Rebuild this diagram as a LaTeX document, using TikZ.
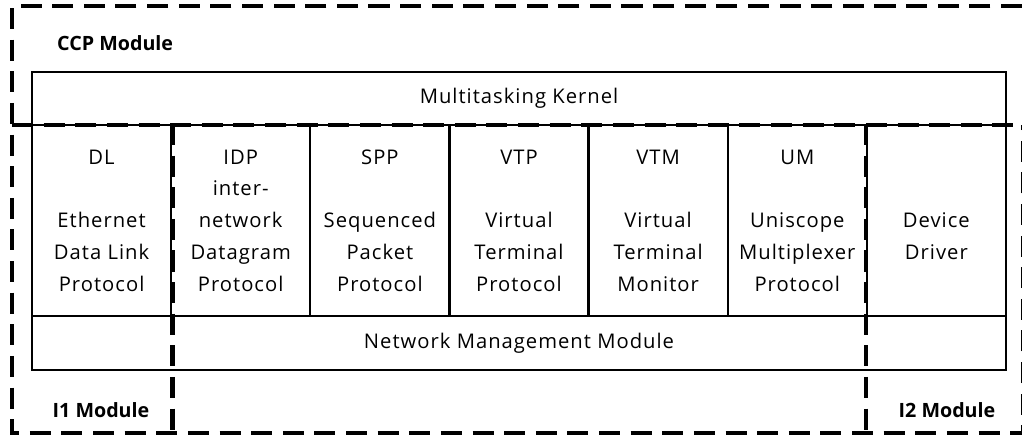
\documentclass[tikz,border=0pt]{standalone}
\usepackage{fontspec}
\setmainfont{Open Sans}[LetterSpace=5.0]
\begin{document}
\begin{tikzpicture}[x=0.02cm,y=-0.02cm,font=\fontsize{11.5}{18.1}\selectfont,
		box/.style={draw,line width=1.2pt,inner sep=0pt,align=center,minimum width=2.783cm,minimum height=3.82cm},
		wide/.style={box,minimum width=19.48cm,minimum height=1.07cm},
		module/.style={draw,line width=2.6pt,dash pattern=on 12pt off 6pt},
		tag/.style={font=\fontsize{11.2}{14}\selectfont\bfseries\addfontfeature{LetterSpace=0}}]
	\useasboundingbox (0,0) rectangle (1022,440);
	\node[wide] (0) at (519,98.5) {Multitasking Kernel};
	\node[box] (1) at (101.6,220.5) {DL\\\mbox{}\\Ethernet\\Data Link\\Protocol};
	\node[box] (2) at (240.7,220.5) {IDP\\inter-\\network\\Datagram\\Protocol};
	\node[box] (3) at (379.9,220.5) {SPP\\\mbox{}\\Sequenced\\Packet\\Protocol};
	\node[box] (4) at (519,220.5) {VTP\\\mbox{}\\Virtual\\Terminal\\Protocol};
	\node[box] (5) at (658.1,220.5) {VTM\\\mbox{}\\Virtual\\Terminal\\Monitor};
	\node[box] (6) at (797.3,220.5) {UM\\\mbox{}\\Uniscope\\Multiplexer\\Protocol};
	\node[box] (7) at (936.4,220.5) {\vphantom{D}\\\mbox{}\\Device\\Driver\\\mbox{}};
	\node[wide] (8) at (519,343) {Network Management Module};
	% module borders
	\coordinate (a) at (12,6);
	\coordinate (b) at (1022,6);
	\coordinate (c) at (12,433);
	\coordinate (d) at (1023.5,433);
	\draw[module] (b) -- (a) -- (c) -- (d) -- (1023.5,125);
	\draw[module] (12,125) -- (1022,125);
	\draw[module] (1.north east) -- (1.north east |- c);
	\draw[module] (7.north west) -- (7.north west |- c);
	\node[tag,anchor=west] (9) at (51,43) {CCP Module};
	\node[tag] (10) at (101,410) {I1 Module};
	\node[tag] (11) at (947,410) {I2 Module};
\end{tikzpicture}
\end{document}
